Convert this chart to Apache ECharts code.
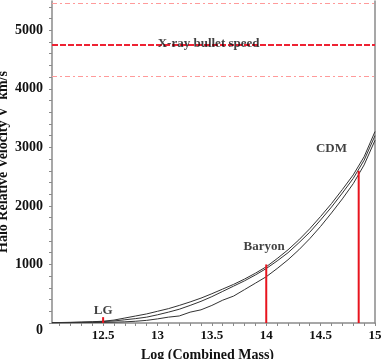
<!DOCTYPE html>
<html><head><meta charset="utf-8">
<script src="https://cdn.jsdelivr.net/npm/echarts@6/dist/echarts.min.js"></script>
<style>html,body{margin:0;padding:0;background:#fff}#c{width:382px;height:359px}</style>
</head><body><div id="c"></div>
<script>
// ---- data ----
const massX = [12.03,12.1,12.2,12.3,12.4,12.5,12.6,12.7,12.8,12.9,13.0,13.1,13.2,13.3,13.4,13.5,13.6,13.7,13.8,13.9,14.0,14.1,14.2,14.3,14.4,14.5,14.6,14.7,14.8,14.9,15.0];
const curveTop = [5,8,12,17,22,30,50,85,120,155,200,245,300,360,425,500,580,660,750,850,960,1100,1250,1420,1610,1820,2040,2280,2530,2840,3270];
const curveMid = [3,5,8,12,17,25,35,55,75,100,140,185,235,300,370,450,540,630,720,820,930,1060,1200,1370,1550,1760,1980,2220,2470,2780,3200];
const curveLow = [2,3,4,6,8,10,14,20,30,45,70,100,120,185,225,300,390,460,570,680,790,930,1080,1250,1440,1650,1880,2120,2380,2700,3120];
const markMass = [12.5, 14.0, 14.85];
const markHeight = [100, 1000, 2600];
const bulletSpeed = 4760;
const bulletBand = [4210, 5470];
const labelText = ['LG','Baryon','CDM','X-ray bullet speed'];
const labelX = [12.5, 13.98, 14.6, 13.47];
const labelY = [205, 1297, 2986, 4778];
const xTickLabels = [12.5,13,13.5,14,14.5,15];
const yTickLabels = [0,1000,2000,3000,4000,5000];

const xMinorTicks = []; for (let i = 121; i <= 150; i++) xMinorTicks.push(i/10);
const yMinorTicks = []; for (let v = 0; v <= 5400; v += 200) yMinorTicks.push(v);

const FONT = 'Liberation Serif';
const TXT = '#111';
const axisCol = '#8a8a8a';
const chart = echarts.init(document.getElementById('c'));
const series = [];
[curveTop, curveMid, curveLow].forEach(c => series.push({
  type:'line', data: massX.map((x,i)=>[x,c[i]]), symbol:'none', silent:true,
  lineStyle:{color:'#333', width:1}, z:3
}));
markMass.forEach((m,i)=>series.push({
  type:'line', data:[[m,0],[m,markHeight[i]]], symbol:'none',
  lineStyle:{color:'#e8141e', width:2}, z:4
}));
series.push({
  type:'line', data:[], symbol:'none',
  markLine:{symbol:'none', silent:true, label:{show:false},
    data:[
      {yAxis:bulletSpeed, lineStyle:{color:'#ee2233', width:2, type:[6,2]}},
      {yAxis:bulletBand[0], lineStyle:{color:'#ff9a9a', width:1, type:[5,3,2,3]}},
      {yAxis:bulletBand[1], lineStyle:{color:'#ff9a9a', width:1, type:[5,3,2,3]}}
    ]}
});
series.push({
  type:'scatter', symbolSize:0, z:10,
  data: labelText.map((t,i)=>({name:t, value:[labelX[i], labelY[i]]})),
  label:{show:true, position:'inside', formatter:p=>p.name,
    fontFamily:FONT, fontWeight:'bold', fontSize:13, color:TXT}
});
chart.setOption({
  animation:false,
  grid:{left:52, right:7, top:1, bottom:36, containLabel:false, outerBoundsMode:'none'},
  xAxis:{type:'value', min:12.03, max:15,
    name:'Log (Combined Mass)', nameLocation:'middle', nameGap:25, nameMoveOverlap:false,
    nameTextStyle:{fontFamily:FONT, fontWeight:'bold', fontSize:14, color:TXT, padding:[0,12,0,0]},
    axisLine:{show:true, onZero:false, lineStyle:{color:axisCol, width:1.5}},
    axisTick:{show:true, customValues:xMinorTicks, length:3, lineStyle:{color:axisCol}},
    axisLabel:{customValues:xTickLabels, fontFamily:FONT, fontWeight:'bold', fontSize:13, color:TXT, margin:6},
    splitLine:{show:false}},
  yAxis:[{type:'value', min:0, max:5500,
    name:'Halo Relative Velocity V  km/s', nameLocation:'middle', nameGap:42, nameRotate:90, nameMoveOverlap:false,
    nameTextStyle:{fontFamily:FONT, fontWeight:'bold', fontSize:14, color:TXT},
    axisLine:{show:true, lineStyle:{color:axisCol, width:1.5}},
    axisTick:{show:true, customValues:yMinorTicks, length:3, lineStyle:{color:axisCol}},
    axisLabel:{customValues:yTickLabels, fontFamily:FONT, fontWeight:'bold', fontSize:14, color:TXT, margin:9,
      formatter:v=> v===0 ? '{z|0}' : String(v),
      rich:{z:{fontFamily:FONT, fontWeight:'bold', fontSize:14, color:TXT, padding:[14,0,0,0]}}},
    splitLine:{show:false}},
   {type:'value', min:0, max:5500, position:'right',
    axisLine:{show:true, lineStyle:{color:axisCol, width:1.5}},
    axisTick:{show:false}, axisLabel:{show:false}, splitLine:{show:false}}],
  series: series
});
</script></body></html>
